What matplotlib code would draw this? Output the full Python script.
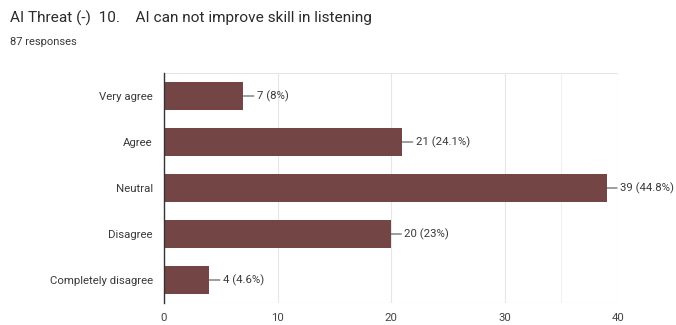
import matplotlib
matplotlib.use("Agg")
import matplotlib.pyplot as plt

# 数据
categories = ["Very agree", "Agree", "Neutral", "Disagree", "Completely disagree"]
counts = [7, 21, 39, 20, 4]
percents = ["8%", "24.1%", "44.8%", "23%", "4.6%"]
x_ticks = [0, 10, 20, 30, 40]

title = "AI Threat (-)  10.    AI can not improve skill in listening"
subtitle = "87 responses"

BAR_COLOR = "#744545"
TEXT_COLOR = "#3a3a3a"

plt.rcParams["font.family"] = ["Roboto", "DejaVu Sans"]

fig = plt.figure(figsize=(6.76, 3.25), dpi=100)
ax = fig.add_axes([164 / 676, 1 - 303 / 325, (618 - 164) / 676, (303 - 73) / 325])

y = list(range(len(categories)))
ax.barh(y, counts, height=0.59, color=BAR_COLOR, zorder=3)

# 数值标注 + 引线
for yi, c, p in zip(y, counts, percents):
    ax.annotate(
        f"{c} ({p})", xy=(c, yi), xytext=(9.5, 0), textcoords="offset points",
        va="center", ha="left", fontsize=8.2, color=TEXT_COLOR,
        arrowprops=dict(arrowstyle="-", color="#555555", lw=0.8,
                        shrinkA=0, shrinkB=0),
    )

ax.set_xlim(0, 40)
ax.set_ylim(4.5, -0.5)
ax.set_yticks(y)
ax.set_yticklabels(categories, fontsize=8.2, color=TEXT_COLOR)
ax.set_xticks(x_ticks)
ax.set_xticklabels([str(t) for t in x_ticks], fontsize=8.2, color="#444444")
ax.tick_params(axis="both", length=0)
ax.tick_params(axis="y", pad=8)
ax.tick_params(axis="x", pad=7)

# 网格
ax.grid(True, axis="x", color="#e6e6e6", linewidth=0.8, zorder=0)
ax.axvline(35, color="#f0f0f0", linewidth=0.8, zorder=0)
ax.axhline(-0.5, color="#e6e6e6", linewidth=0.8, zorder=0)
ax.axhline(4.5, color="#e6e6e6", linewidth=0.8, zorder=0)
for side in ["top", "right", "bottom"]:
    ax.spines[side].set_visible(False)
ax.spines["left"].set_color("#333333")
ax.spines["left"].set_linewidth(1.0)
ax.spines["left"].set_zorder(4)

fig.text(10 / 676, 1 - 18 / 325, title, fontsize=11.1, color="#2a2a2a",
         ha="left", va="center")
fig.text(10 / 676, 1 - 42 / 325, subtitle, fontsize=8, color="#3a3a3a",
         ha="left", va="center")

fig.savefig("out.png", dpi=100)
